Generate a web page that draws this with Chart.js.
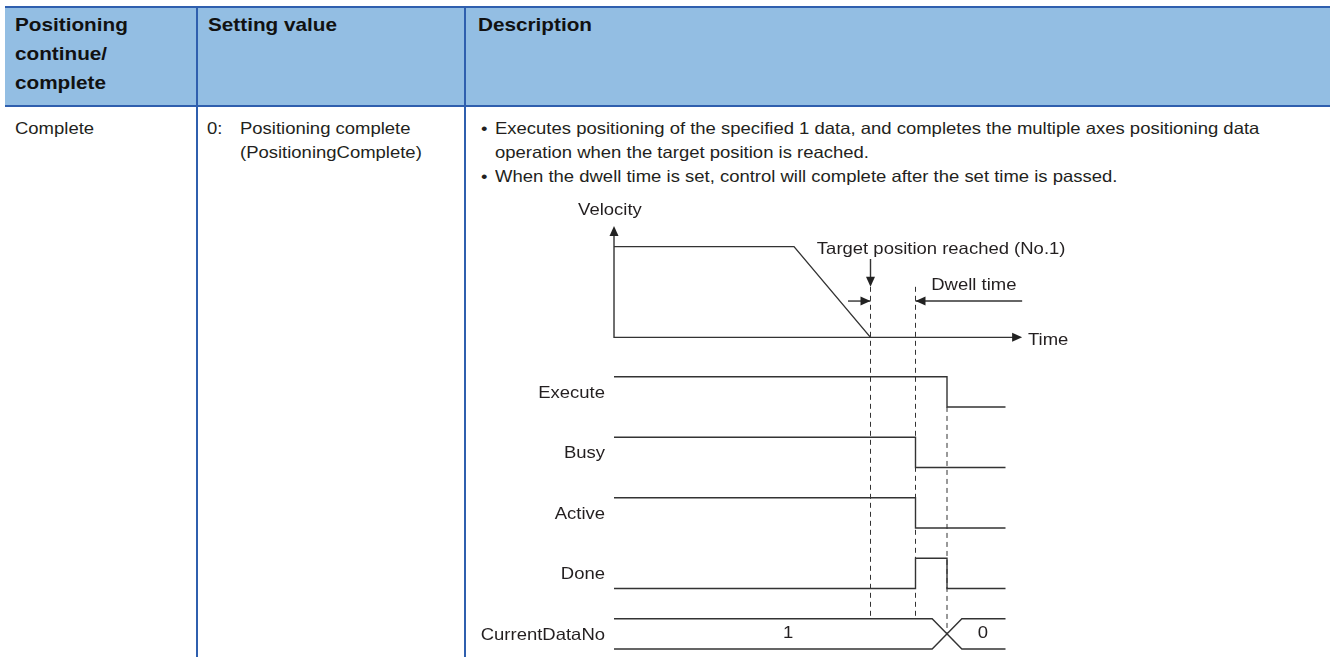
<!DOCTYPE html>
<html>
<head>
<meta charset="utf-8">
<script src="https://cdn.jsdelivr.net/npm/chart.js@4"></script>
<style>
body { margin: 0; background: #fff; width: 1330px; height: 657px; overflow: hidden; position: relative;
       font-family: "Liberation Sans", Arial, sans-serif; color: #231f20; }
.head { position: absolute; left: 5px; top: 6px; width: 1325px; height: 97px; background: #93bee3;
        border-top: 2px solid #2f5fae; border-bottom: 2px solid #2f5fae; }
.vline { position: absolute; top: 6px; width: 2px; height: 651px; background: #2f5fae; }
.t { position: absolute; font-size: 16.5px; white-space: nowrap; line-height: 24px;
     transform: scaleX(1.12); transform-origin: 0 0; }
.b { position: absolute; font-size: 18.5px; font-weight: bold; white-space: nowrap; line-height: 29px; color: #111;
     transform: scaleX(1.12); transform-origin: 0 0; }
#chart { position: absolute; left: 480px; top: 190px; }
</style>
</head>
<body>
<div class="head"></div>
<div class="vline" style="left:196px"></div>
<div class="vline" style="left:464px"></div>

<div class="b" style="left:15px;top:10px">Positioning<br>continue/<br>complete</div>
<div class="b" style="left:208px;top:10px">Setting value</div>
<div class="b" style="left:478px;top:10px">Description</div>

<div class="t" style="left:15px;top:116px">Complete</div>
<div class="t" style="left:207px;top:116px">0:</div>
<div class="t" style="left:240px;top:116px">Positioning complete<br>(PositioningComplete)</div>
<div class="t" style="left:481px;top:116px">•</div>
<div class="t" style="left:495px;top:116px">Executes positioning of the specified 1 data, and completes the multiple axes positioning data<br>operation when the target position is reached.</div>
<div class="t" style="left:481px;top:164px">•</div>
<div class="t" style="left:495px;top:164px">When the dwell time is set, control will complete after the set time is passed.</div>

<canvas id="chart" width="620" height="467"></canvas>

<script>
// velocity profile (time, velocity)
const velT = [0, 4.0, 5.7];
const velV = [3, 3, 0];
const timeEnd = 9.07;

// signal levels (time, 0/1)
const signalNames = ['Execute', 'Busy', 'Active', 'Done', 'CurrentDataNo'];
const executeT = [0, 7.4, 7.4, 8.7];
const executeV = [1, 1, 0, 0];
const busyT = [0, 6.7, 6.7, 8.7];
const busyV = [1, 1, 0, 0];
const activeT = [0, 6.7, 6.7, 8.7];
const activeV = [1, 1, 0, 0];
const doneT = [0, 6.7, 6.7, 7.4, 7.4, 8.7];
const doneV = [0, 0, 1, 1, 0, 0];
const dataNoT = [0, 7.07, 7.73, 8.7];
const dataNoA = [1, 1, 0, 0];
const dataNoB = [0, 0, 1, 1];
const dataNoValues = ['1', '0'];
const dataNoValueT = [3.87, 8.2];

// event times: target position reached, dwell end, execute off
const targetT = 5.7;
const dwellEndT = 6.7;
const execOffT = 7.4;

// row bases on the y scale
const rowBase = { vel: 10.3, Execute: 8, Busy: 6, Active: 4, Done: 2, CurrentDataNo: 0 };

const ink = '#333333';
const SX = 1.12;
const pts = (ts, vs, base) => ts.map((t, i) => ({ x: t, y: base + vs[i] }));

function lineSet(data, dash) {
    return {
        data: data,
        borderColor: ink,
        borderWidth: dash ? 1 : 1.4,
        borderDash: dash ? [5, 4] : [],
        pointRadius: 0,
        tension: 0,
        showLine: true,
        fill: false,
    };
}

const datasets = [
    // velocity axes
    lineSet([{ x: 0, y: rowBase.vel + 3.5 }, { x: 0, y: rowBase.vel }, { x: timeEnd - 0.2, y: rowBase.vel }]),
    lineSet(pts(velT, velV, rowBase.vel)),
    lineSet(pts(executeT, executeV, rowBase.Execute)),
    lineSet(pts(busyT, busyV, rowBase.Busy)),
    lineSet(pts(activeT, activeV, rowBase.Active)),
    lineSet(pts(doneT, doneV, rowBase.Done)),
    lineSet(pts(dataNoT, dataNoA, rowBase.CurrentDataNo)),
    lineSet(pts(dataNoT, dataNoB, rowBase.CurrentDataNo)),
    // dashed markers
    lineSet([{ x: targetT, y: 11.97 }, { x: targetT, y: 1 }], true),
    lineSet([{ x: dwellEndT, y: 11.97 }, { x: dwellEndT, y: 1 }], true),
    lineSet([{ x: execOffT, y: rowBase.Execute }, { x: execOffT, y: 0.5 }], true),
    // dwell arrows shafts
    lineSet([{ x: 5.2, y: 11.5 }, { x: targetT, y: 11.5 }]),
    lineSet([{ x: timeEnd, y: 11.5 }, { x: dwellEndT, y: 11.5 }]),
    // target arrow shaft
    lineSet([{ x: targetT, y: 12.89 }, { x: targetT, y: 12.2 }]),
];

function arrowHead(ctx, x, y, dir) {
    const L = 10, W = 4.5;
    ctx.beginPath();
    if (dir === 'up') { ctx.moveTo(x, y); ctx.lineTo(x - W, y + L); ctx.lineTo(x + W, y + L); }
    if (dir === 'down') { ctx.moveTo(x, y); ctx.lineTo(x - W, y - L); ctx.lineTo(x + W, y - L); }
    if (dir === 'right') { ctx.moveTo(x, y); ctx.lineTo(x - L, y - W); ctx.lineTo(x - L, y + W); }
    if (dir === 'left') { ctx.moveTo(x, y); ctx.lineTo(x + L, y - W); ctx.lineTo(x + L, y + W); }
    ctx.closePath();
    ctx.fill();
}

// text drawn a little wider than the font, like the source document
function label(ctx, s, x, y, align) {
    const w = ctx.measureText(s).width * SX;
    const x0 = align === 'left' ? x : align === 'right' ? x - w : x - w / 2;
    ctx.save();
    ctx.translate(x0, y);
    ctx.scale(SX, 1);
    ctx.textAlign = 'left';
    ctx.fillText(s, 0, 0);
    ctx.restore();
}

const notes = {
    id: 'notes',
    afterDatasetsDraw(chart) {
        const ctx = chart.ctx;
        const xs = chart.scales.x, ys = chart.scales.y;
        const X = v => xs.getPixelForValue(v), Y = v => ys.getPixelForValue(v);
        ctx.save();
        ctx.fillStyle = '#222';
        arrowHead(ctx, X(0), Y(rowBase.vel + 3.68), 'up');
        arrowHead(ctx, X(timeEnd), Y(rowBase.vel), 'right');
        arrowHead(ctx, X(targetT), Y(11.97), 'down');
        arrowHead(ctx, X(targetT), Y(11.5), 'right');
        arrowHead(ctx, X(dwellEndT), Y(11.5), 'left');

        ctx.font = '16.5px "Liberation Sans", Arial, sans-serif';
        ctx.fillStyle = '#231f20';
        ctx.textBaseline = 'middle';
        label(ctx, 'Velocity', X(-0.09), Y(14.48), 'center');
        label(ctx, 'Target position reached (No.1)', X(7.27), Y(13.19), 'center');
        dataNoValues.forEach((s, i) => label(ctx, s, X(dataNoValueT[i]), Y(rowBase.CurrentDataNo + 0.5), 'center'));
        label(ctx, 'Dwell time', X(7.05), Y(12.0), 'left');
        label(ctx, 'Time', X(9.2), Y(rowBase.vel - 0.1), 'left');
        signalNames.forEach(n => label(ctx, n, X(-0.2), Y(rowBase[n] + 0.45), 'right'));
        ctx.restore();
    }
};

new Chart(document.getElementById('chart'), {
    type: 'scatter',
    data: { datasets: datasets },
    options: {
        responsive: false,
        animation: false,
        layout: { padding: 0 },
        plugins: { legend: { display: false }, tooltip: { enabled: false } },
        scales: {
            x: { type: 'linear', min: -2.978, max: 10.8, display: false },
            y: { type: 'linear', min: -0.264, max: 15.17, display: false },
        },
    },
    plugins: [notes],
});
</script>
</body>
</html>
